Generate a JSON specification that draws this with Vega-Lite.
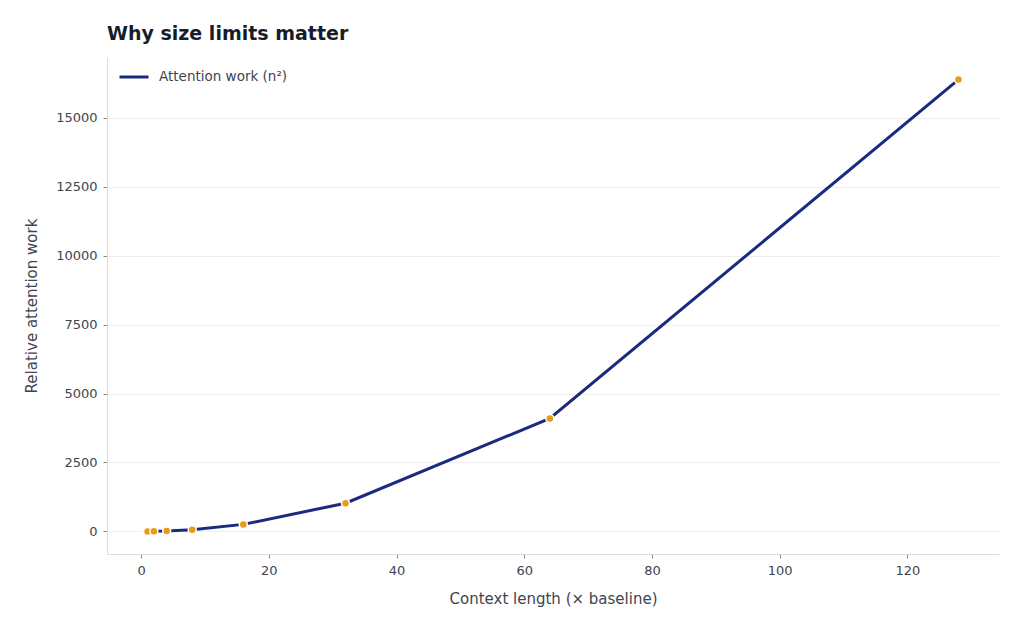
{
  "$schema": "https://vega.github.io/schema/vega-lite/v6.json",
  "width": 892,
  "height": 497,
  "autosize": {"type": "none"},
  "padding": {"left": 107, "top": 57, "right": 25, "bottom": 77},
  "background": "white",
  "title": {
    "text": "Why size limits matter",
    "anchor": "start",
    "frame": "group",
    "font": "DejaVu Sans",
    "fontSize": 19,
    "fontWeight": "bold",
    "color": "#161c2b",
    "offset": 13
  },
  "config": {
    "font": "DejaVu Sans",
    "view": {"stroke": null},
    "axis": {
      "labelFont": "DejaVu Sans",
      "labelFontSize": 13,
      "labelColor": "#3f4450",
      "titleFont": "DejaVu Sans",
      "titleFontSize": 15,
      "titleFontWeight": "normal",
      "titleColor": "#3f4450",
      "domainColor": "#dddddd",
      "tickColor": "#888888",
      "tickSize": 4,
      "labelPadding": 6,
      "gridColor": "#eeeeee"
    }
  },
  "data": {
    "values": [
      {"context": 1, "work": 1, "series": "Attention work (n²)"},
      {"context": 2, "work": 4, "series": "Attention work (n²)"},
      {"context": 4, "work": 16, "series": "Attention work (n²)"},
      {"context": 8, "work": 64, "series": "Attention work (n²)"},
      {"context": 16, "work": 256, "series": "Attention work (n²)"},
      {"context": 32, "work": 1024, "series": "Attention work (n²)"},
      {"context": 64, "work": 4096, "series": "Attention work (n²)"},
      {"context": 128, "work": 16384, "series": "Attention work (n²)"}
    ]
  },
  "encoding": {
    "x": {
      "field": "context",
      "type": "quantitative",
      "scale": {"domain": [-5.35, 134.35], "nice": false, "zero": false},
      "axis": {
        "title": "Context length (× baseline)",
        "values": [0, 20, 40, 60, 80, 100, 120],
        "grid": false,
        "titlePadding": 14
      }
    },
    "y": {
      "field": "work",
      "type": "quantitative",
      "scale": {"domain": [-818, 17203], "nice": false, "zero": false},
      "axis": {
        "title": "Relative attention work",
        "values": [0, 2500, 5000, 7500, 10000, 12500, 15000],
        "format": "d",
        "grid": true,
        "titlePadding": 16
      }
    }
  },
  "layer": [
    {
      "mark": {"type": "line", "strokeWidth": 3, "interpolate": "linear"},
      "encoding": {
        "color": {
          "field": "series",
          "type": "nominal",
          "scale": {"range": ["#1b2a7f"]},
          "legend": {
            "title": null,
            "orient": "none",
            "legendX": 11,
            "legendY": 4,
            "symbolType": "stroke",
            "symbolSize": 841,
            "symbolStrokeWidth": 3,
            "labelFont": "DejaVu Sans",
            "labelFontSize": 13.5,
            "labelColor": "#3f4450",
            "labelOffset": 9
          }
        }
      }
    },
    {
      "mark": {
        "type": "point",
        "filled": true,
        "size": 64,
        "color": "#e99a17",
        "stroke": "white",
        "strokeWidth": 1.5,
        "opacity": 1
      }
    }
  ]
}
